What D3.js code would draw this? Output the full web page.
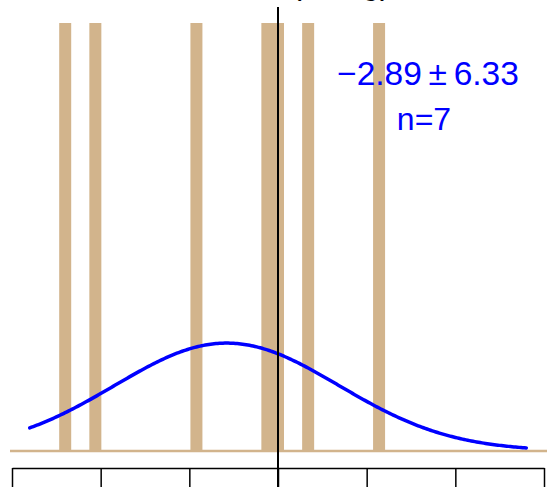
<!DOCTYPE html>
<html>
<head>
<meta charset="utf-8">
<script src="https://cdn.jsdelivr.net/npm/d3@7"></script>
<style>
  body { margin: 0; background: #fff; }
  svg { display: block; font-family: "Liberation Sans", Arial, sans-serif; }
</style>
</head>
<body>
<svg class="chart" width="547" height="487"></svg>
<script>
// observed differences (one rug bar each)
const diffs = [-12.0, -10.3, -4.6, -0.6, 0.0, 1.7, 5.7];
const meanDiff = -2.89;
const sdDiff = 6.33;
const nObs = 7;
const tickValues = [-15, -10, -5, 0, 5, 10, 15];
const curveRange = [-14, 14];

const svg = d3.select('.chart');

var x = d3.scaleLinear().domain([-15, 15]).range([12, 544]);
var y = d3.scaleLinear().domain([0, 0.25]).range([451, 23]);

// rug bars
svg.append('g')
  .selectAll('rect')
  .data(diffs)
  .enter()
  .append('rect')
  .attr('x', (d) => x(d) - 6)
  .attr('width', 12)
  .attr('y', y(0.25))
  .attr('height', y(0) - y(0.25))
  .attr('fill', '#D2B48C');

// baseline
svg.append('line')
  .attr('x1', 10).attr('x2', 547)
  .attr('y1', y(0)).attr('y2', y(0))
  .attr('stroke', '#D2B48C')
  .attr('stroke-width', 2.5);

// normal density for mean ± sd
const dens = (v) => Math.exp(-0.5 * Math.pow((v - meanDiff) / sdDiff, 2)) / (sdDiff * Math.sqrt(2 * Math.PI));
const pts = d3.range(curveRange[0], curveRange[1] + 0.001, 0.1).map((v) => [v, dens(v)]);

svg.append('path')
  .datum(pts)
  .attr('d', d3.line().x((d) => x(d[0])).y((d) => y(d[1])))
  .attr('fill', 'none')
  .attr('stroke', '#0000FF')
  .attr('stroke-width', 3.5)
  .attr('stroke-linecap', 'round');

// zero line
svg.append('line')
  .attr('x1', x(0)).attr('x2', x(0))
  .attr('y1', 7).attr('y2', 487)
  .attr('stroke', '#000')
  .attr('stroke-width', 2);

// x axis (labels fall below the window, so none drawn)
svg.append('g')
  .attr('transform', 'translate(0,468)')
  .call(d3.axisBottom(x).tickValues(tickValues).tickSize(20).tickSizeOuter(0).tickFormat(''))
  .call((g) => g.selectAll('path, line').attr('stroke', '#000').attr('stroke-width', 1.5));

// title, mostly cut off at the top
svg.append('text')
  .attr('x', 291).attr('y', -6)
  .attr('font-size', 32)
  .text('(in mg)');

// annotation
svg.append('text')
  .attr('x', 428).attr('y', 85)
  .attr('text-anchor', 'middle')
  .attr('font-size', 33.5)
  .attr('fill', '#0000FF')
  .text(meanDiff.toFixed(2).replace('-', '\u2212') + '\u2009\u00B1\u2009' + sdDiff.toFixed(2));

svg.append('text')
  .attr('x', 424).attr('y', 130)
  .attr('text-anchor', 'middle')
  .attr('font-size', 32)
  .attr('fill', '#0000FF')
  .text('n=' + nObs);
</script>
</body>
</html>
